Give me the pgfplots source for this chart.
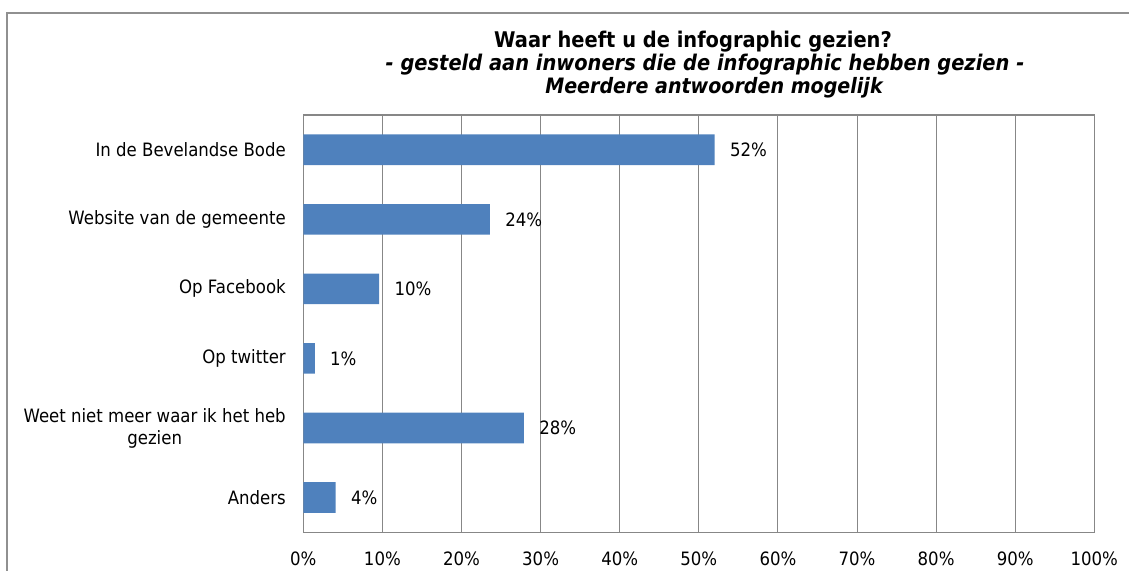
\documentclass[border=0pt]{standalone}
\usepackage{fontspec}
\setmainfont{DejaVu Sans}[FakeStretch=0.9]
\usepackage{pgfplots}
\pgfplotsset{compat=1.18}
\definecolor{barblue}{HTML}{4F81BD}
\definecolor{gridgray}{HTML}{878787}
\definecolor{framegray}{HTML}{909090}
\begin{document}
\begin{tikzpicture}
\useasboundingbox (0,0) rectangle (564.5pt,285pt);
\draw[framegray, line width=1pt] (3.25pt,-5pt) -- (3.25pt,278.75pt) -- (570pt,278.75pt);
\node[anchor=base, font=\bfseries\fontsize{10.8pt}{12pt}\selectfont, inner sep=0pt] at (346.5pt,261.5pt) {Waar heeft u de infographic gezien?};
\node[anchor=base, font=\bfseries\itshape\fontsize{10.8pt}{12pt}\selectfont, inner sep=0pt] at (352.5pt,250pt) {- gesteld aan inwoners die de infographic hebben gezien -};
\node[anchor=base, font=\bfseries\itshape\fontsize{10.6pt}{12pt}\selectfont, inner sep=0pt] at (357pt,238.5pt) {Meerdere antwoorden mogelijk};
\begin{axis}[
  at={(151.65pt,18.85pt)}, anchor=south west,
  width=395.5pt, height=208.65pt, scale only axis,
  xbar, bar width=0.44,
  xmin=0, xmax=100, ymin=-0.5, ymax=5.5, y dir=reverse,
  xtick={0,10,20,30,40,50,60,70,80,90,100},
  xticklabels={0\%,10\%,20\%,30\%,40\%,50\%,60\%,70\%,80\%,90\%,100\%},
  ytick={0,1,2,3,4,5},
  yticklabels={In de Bevelandse Bode,Website van de gemeente,Op Facebook,Op twitter,{Weet niet meer waar ik het heb\\gezien},Anders},
  xmajorgrids, ymajorgrids=false,
  major grid style={gridgray, line width=0.5pt},
  axis line style={gridgray, line width=0.6pt},
  tick style={draw=none},
  ticklabel style={font=\fontsize{9.2pt}{11pt}\selectfont, inner sep=0pt},
  yticklabel style={anchor=east, align=center, xshift=-4.3pt},
  xticklabel style={anchor=base, yshift=-16.5pt},
  nodes near coords, point meta=explicit symbolic,
  nodes near coords style={anchor=west, inner sep=0pt, xshift=7.5pt, font=\fontsize{9.2pt}{11pt}\selectfont, black},
]
\addplot[fill=barblue, draw=none] coordinates {
  (52,0)[52\%]
  (23.6,1)[24\%]
  (9.6,2)[10\%]
  (1.45,3)[1\%]
  (27.9,4)[28\%]
  (4.1,5)[4\%]
};
\end{axis}
\end{tikzpicture}
\end{document}
